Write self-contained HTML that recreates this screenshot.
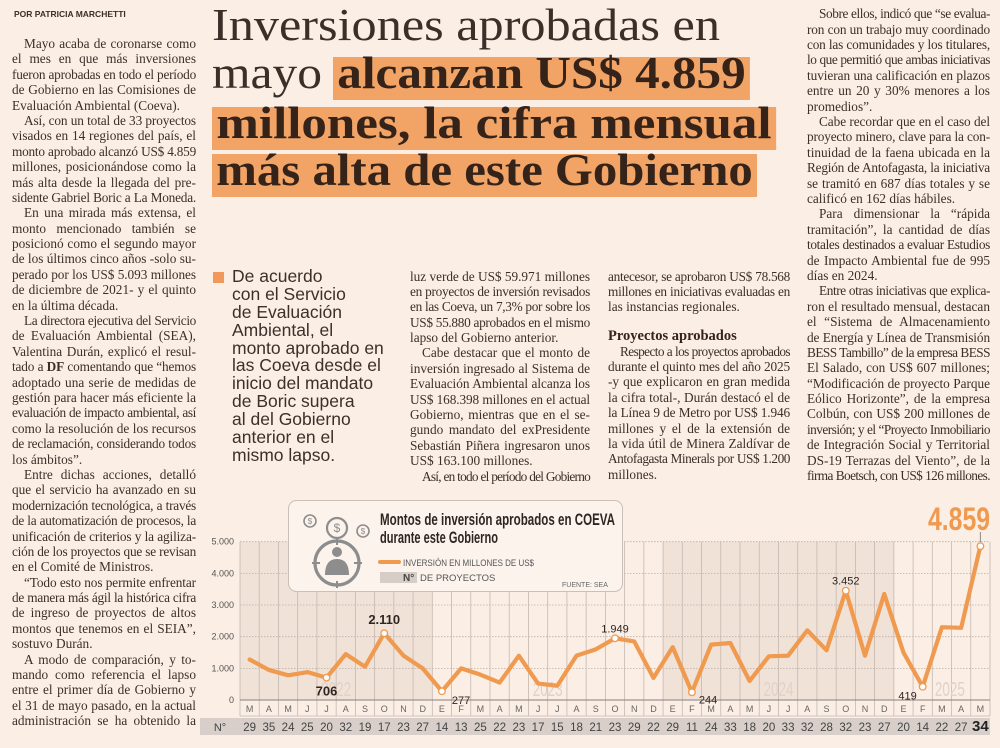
<!DOCTYPE html>
<html><head><meta charset="utf-8">
<style>
html,body{margin:0;padding:0}
body{width:1000px;height:748px;position:relative;overflow:hidden;background:#fbeee5;font-family:"Liberation Serif",serif;color:#3b2f29}
.col{position:absolute;font-size:13.3px;line-height:15.4px}
.ln{white-space:nowrap;text-align:justify;text-align-last:justify;height:15.4px;overflow:visible}
.ln.l{text-align-last:left}
.ln.i{padding-left:12px}
.hl{position:absolute;left:0;top:0;height:43px;line-height:31px;font-size:46px;white-space:nowrap;transform-origin:0 0;display:inline-block}
.hb{background:#f1a466;font-weight:bold;color:#35231a;padding:0 4px}
.pq{position:absolute;left:232px;font-family:"Liberation Sans",sans-serif;font-size:17.5px;line-height:17.9px;color:#3b302a;white-space:nowrap}
</style></head>
<body>
<div style="position:absolute;left:14px;top:9px;font-family:'Liberation Sans',sans-serif;font-weight:bold;font-size:8.5px;color:#3b2f29">POR PATRICIA MARCHETTI</div>

<div>
 <div class="hl fit" data-w="508" style="left:212px;top:9px">Inversiones aprobadas en</div>
 <div class="hl fit" data-w="110" style="left:212px;top:57px">mayo</div>
 <div class="hl hb fit" data-w="417" style="left:333px;top:57px">alcanzan US$ 4.859</div>
 <div class="hl hb fit" data-w="564" style="left:212px;top:107px">millones, la cifra mensual</div>
 <div class="hl hb fit" data-w="545" style="left:212px;top:154px">más alta de este Gobierno</div>
</div>

<div class="col" style="left:12px;top:36px;width:184px">
<div class="ln i">Mayo acaba de coronarse como</div>
<div class="ln">el mes en que más inversiones</div>
<div class="ln">fueron aprobadas en todo el período</div>
<div class="ln">de Gobierno en las Comisiones de</div>
<div class="ln l">Evaluación Ambiental (Coeva).</div>
<div class="ln i">Así, con un total de 33 proyectos</div>
<div class="ln">visados en 14 regiones del país, el</div>
<div class="ln">monto aprobado alcanzó US$ 4.859</div>
<div class="ln">millones, posicionándose como la</div>
<div class="ln">más alta desde la llegada del pre-</div>
<div class="ln">sidente Gabriel Boric a La Moneda.</div>
<div class="ln i">En una mirada más extensa, el</div>
<div class="ln">monto mencionado también se</div>
<div class="ln">posicionó como el segundo mayor</div>
<div class="ln">de los últimos cinco años -solo su-</div>
<div class="ln">perado por los US$ 5.093 millones</div>
<div class="ln">de diciembre de 2021- y el quinto</div>
<div class="ln l">en la última década.</div>
<div class="ln i">La directora ejecutiva del Servicio</div>
<div class="ln">de Evaluación Ambiental (SEA),</div>
<div class="ln">Valentina Durán, explicó el resul-</div>
<div class="ln">tado a <b>DF</b> comentando que “hemos</div>
<div class="ln">adoptado una serie de medidas de</div>
<div class="ln">gestión para hacer más eficiente la</div>
<div class="ln">evaluación de impacto ambiental, así</div>
<div class="ln">como la resolución de los recursos</div>
<div class="ln">de reclamación, considerando todos</div>
<div class="ln l">los ámbitos”.</div>
<div class="ln i">Entre dichas acciones, detalló</div>
<div class="ln">que el servicio ha avanzado en su</div>
<div class="ln">modernización tecnológica, a través</div>
<div class="ln">de la automatización de procesos, la</div>
<div class="ln">unificación de criterios y la agiliza-</div>
<div class="ln">ción de los proyectos que se revisan</div>
<div class="ln l">en el Comité de Ministros.</div>
<div class="ln i">“Todo esto nos permite enfrentar</div>
<div class="ln">de manera más ágil la histórica cifra</div>
<div class="ln">de ingreso de proyectos de altos</div>
<div class="ln">montos que tenemos en el SEIA”,</div>
<div class="ln l">sostuvo Durán.</div>
<div class="ln i">A modo de comparación, y to-</div>
<div class="ln">mando como referencia el lapso</div>
<div class="ln">entre el primer día de Gobierno y</div>
<div class="ln">el 31 de mayo pasado, en la actual</div>
<div class="ln">administración se ha obtenido la</div>
</div>

<div>
<div style="position:absolute;left:213px;top:272px;width:11px;height:11px;background:#f0995a"></div>
<div class="pq" style="top:268px">De acuerdo</div>
<div class="pq" style="top:286px">con el Servicio</div>
<div class="pq" style="top:304px">de Evaluación</div>
<div class="pq" style="top:322px">Ambiental, el</div>
<div class="pq" style="top:340px">monto aprobado en</div>
<div class="pq" style="top:357px">las Coeva desde el</div>
<div class="pq" style="top:375px">inicio del mandato</div>
<div class="pq" style="top:393px">de Boric supera</div>
<div class="pq" style="top:411px">al del Gobierno</div>
<div class="pq" style="top:429px">anterior en el</div>
<div class="pq" style="top:447px">mismo lapso.</div>
</div>

<div class="col" style="left:410px;top:268.5px;width:180px;line-height:15.2px">
<div class="ln">luz verde de US$ 59.971 millones</div>
<div class="ln">en proyectos de inversión revisados</div>
<div class="ln">en las Coeva, un 7,3% por sobre los</div>
<div class="ln">US$ 55.880 aprobados en el mismo</div>
<div class="ln l">lapso del Gobierno anterior.</div>
<div class="ln i">Cabe destacar que el monto de</div>
<div class="ln">inversión ingresado al Sistema de</div>
<div class="ln">Evaluación Ambiental alcanza los</div>
<div class="ln">US$ 168.398 millones en el actual</div>
<div class="ln">Gobierno, mientras que en el se-</div>
<div class="ln">gundo mandato del exPresidente</div>
<div class="ln">Sebastián Piñera ingresaron unos</div>
<div class="ln l">US$ 163.100 millones.</div>
<div class="ln i">Así, en todo el período del Gobierno</div>
</div>

<div class="col" style="left:608px;top:268.5px;width:182px;line-height:15.2px">
<div class="ln">antecesor, se aprobaron US$ 78.568</div>
<div class="ln">millones en iniciativas evaluadas en</div>
<div class="ln l">las instancias regionales.</div>
<div style="height:13px"></div>
<div style="font-weight:bold;font-size:14.5px;height:16px;line-height:16px;color:#35231a">Proyectos aprobados</div>
<div class="ln i">Respecto a los proyectos aprobados</div>
<div class="ln">durante el quinto mes del año 2025</div>
<div class="ln">-y que explicaron en gran medida</div>
<div class="ln">la cifra total-, Durán destacó el de</div>
<div class="ln">la Línea 9 de Metro por US$ 1.946</div>
<div class="ln">millones y el de la extensión de</div>
<div class="ln">la vida útil de Minera Zaldívar de</div>
<div class="ln">Antofagasta Minerals por US$ 1.200</div>
<div class="ln l">millones.</div>
</div>

<div class="col" style="left:807px;top:6.3px;width:183px;line-height:15.45px">
<div class="ln i">Sobre ellos, indicó que “se evalua-</div>
<div class="ln">ron con un trabajo muy coordinado</div>
<div class="ln">con las comunidades y los titulares,</div>
<div class="ln">lo que permitió que ambas iniciativas</div>
<div class="ln">tuvieran una calificación en plazos</div>
<div class="ln">entre un 20 y 30% menores a los</div>
<div class="ln l">promedios”.</div>
<div class="ln i">Cabe recordar que en el caso del</div>
<div class="ln">proyecto minero, clave para la con-</div>
<div class="ln">tinuidad de la faena ubicada en la</div>
<div class="ln">Región de Antofagasta, la iniciativa</div>
<div class="ln">se tramitó en 687 días totales y se</div>
<div class="ln l">calificó en 162 días hábiles.</div>
<div class="ln i">Para dimensionar la “rápida</div>
<div class="ln">tramitación”, la cantidad de días</div>
<div class="ln">totales destinados a evaluar Estudios</div>
<div class="ln">de Impacto Ambiental fue de 995</div>
<div class="ln l">días en 2024.</div>
<div class="ln i">Entre otras iniciativas que explica-</div>
<div class="ln">ron el resultado mensual, destacan</div>
<div class="ln">el “Sistema de Almacenamiento</div>
<div class="ln">de Energía y Línea de Transmisión</div>
<div class="ln">BESS Tambillo” de la empresa BESS</div>
<div class="ln">El Salado, con US$ 607 millones;</div>
<div class="ln">“Modificación de proyecto Parque</div>
<div class="ln">Eólico Horizonte”, de la empresa</div>
<div class="ln">Colbún, con US$ 200 millones de</div>
<div class="ln">inversión; y el “Proyecto Inmobiliario</div>
<div class="ln">de Integración Social y Territorial</div>
<div class="ln">DS-19 Terrazas del Viento”, de la</div>
<div class="ln">firma Boetsch, con US$ 126 millones.</div>
</div>

<svg id="chart" width="1000" height="748" style="position:absolute;left:0;top:0" font-family="Liberation Sans, sans-serif">
 <g id="bgLayer"></g>
 <g id="gridLayer"></g>
 <g id="yearLayer"></g>
 <g id="legend-box">
  <rect x="288.5" y="500.5" width="334" height="91" rx="8" fill="#fcf3ec" stroke="#cbbfb7"/>
  <g fill="none" stroke="#8d8d8d">
   <circle cx="337" cy="563" r="22" stroke-width="3.2"/>
   <line x1="337" y1="538" x2="337" y2="545" stroke-width="2"/>
   <line x1="337" y1="581" x2="337" y2="588" stroke-width="2"/>
   <line x1="312" y1="563" x2="320" y2="563" stroke-width="2"/>
   <line x1="354" y1="563" x2="362" y2="563" stroke-width="2"/>
   <circle cx="337" cy="528" r="10" fill="#fcf3ec" stroke-width="2.2"/>
   <circle cx="310" cy="521" r="6" stroke-width="1.6"/>
   <circle cx="363" cy="531" r="6" stroke-width="1.6"/>
   <circle cx="337" cy="552" r="5" fill="#8d8d8d" stroke="none"/>
   <path d="M325 575 Q325 559 337 559 Q349 559 349 575 Z" fill="#8d8d8d" stroke="none"/>
   <text x="337" y="532" font-size="12" fill="#8d8d8d" stroke="none" text-anchor="middle">$</text>
   <text x="310" y="524" font-size="8" fill="#8d8d8d" stroke="none" text-anchor="middle">$</text>
   <text x="363" y="534" font-size="8" fill="#8d8d8d" stroke="none" text-anchor="middle">$</text>
  </g>
  <text x="380" y="525" font-size="17" font-weight="bold" fill="#2f2622" textLength="235" lengthAdjust="spacingAndGlyphs">Montos de inversión aprobados en COEVA</text>
  <text x="380" y="543" font-size="17" font-weight="bold" fill="#2f2622" textLength="118" lengthAdjust="spacingAndGlyphs">durante este Gobierno</text>
  <line x1="380" y1="562" x2="399" y2="562" stroke="#ef9a4f" stroke-width="4" stroke-linecap="round"/>
  <text x="403" y="566" font-size="9.5" fill="#555" textLength="131" lengthAdjust="spacingAndGlyphs">INVERSIÓN EN MILLONES DE US$</text>
  <rect x="380" y="572" width="37" height="11" fill="#d6cdc7"/>
  <text x="403" y="581" font-size="10" font-weight="bold" fill="#444">N°</text>
  <text x="420" y="581" font-size="9.5" fill="#555">DE PROYECTOS</text>
  <text x="562" y="587" font-size="7" fill="#666">FUENTE: SEA</text>
 </g>
 <g id="dataLayer"></g>
</svg>

<script>
const months=["M","A","M","J","J","A","S","O","N","D","E","F","M","A","M","J","J","A","S","O","N","D","E","F","M","A","M","J","J","A","S","O","N","D","E","F","M","A","M"];
const investment=[1280,950,780,880,706,1450,1050,2110,1400,1000,277,1000,800,550,1400,520,450,1400,1600,1949,1850,700,1670,244,1750,1800,600,1380,1400,2200,1570,3452,1400,3350,1500,419,2300,2280,4859];
const projects=[29,35,24,25,20,32,19,17,23,27,14,13,25,22,23,17,15,18,21,23,29,22,29,11,24,33,18,20,33,32,28,32,23,27,20,14,22,27,34];
const yTicks=[0,1000,2000,3000,4000,5000];
const yTickLabels=["0","1.000","2.000","3.000","4.000","5.000"];
const years=["2022","2023","2024","2025"];
const yearStart=[0,10,22,34];
const yearLen=[10,12,12,5];
const shadedYears=[0,2];
const highlightIdx=[4,7,10,19,23,31,35,38];
const highlightText=["706","2.110","277","1.949","244","3.452","419","4.859"];

const NS="http://www.w3.org/2000/svg";
const X0=240,X1=990,Y0=700,YTOP=541.7,VMAX=5000;
const cw=(X1-X0)/months.length;
function xBand(i){return X0+i*cw;}
function xC(i){return X0+(i+0.5)*cw;}
function yS(v){return Y0-(v/VMAX)*(Y0-YTOP);}
function mk(tag,attrs,parent){const e=document.createElementNS(NS,tag);for(const k in attrs)e.setAttribute(k,attrs[k]);parent.appendChild(e);return e;}
const bg=document.getElementById('bgLayer'),grid=document.getElementById('gridLayer'),yl=document.getElementById('yearLayer'),dl=document.getElementById('dataLayer');

shadedYears.forEach(y=>{
 const r=mk('rect',{x:xBand(yearStart[y]),y:YTOP,width:yearLen[y]*cw,height:Y0-YTOP,fill:'#f1e2d8'},bg);
 
 
});
yTicks.forEach((t,i)=>{
 if(t>0){const l=mk('line',{x1:X0,x2:X1,y1:yS(t),y2:yS(t),stroke:'#b9aea6','stroke-dasharray':'1.5 1.5','stroke-width':0.8},grid);
 
 }
 const tx=mk('text',{x:234,y:yS(t)+3,'font-size':9,fill:'#555','text-anchor':'end'},grid);
 tx.textContent=yTickLabels[i];
 
 
});
for(let i=0;i<=months.length;i++){
 const l=mk('line',{x1:xBand(i),x2:xBand(i),y1:YTOP,y2:Y0+16,stroke:'#c4b8b0','stroke-width':0.8},grid);
 
 
}
mk('line',{x1:X0,x2:X1,y1:Y0,y2:Y0,stroke:'#8a807a','stroke-width':1},grid);
mk('line',{x1:X0,x2:X1,y1:Y0+16,y2:Y0+16,stroke:'#c4b8b0','stroke-width':0.8},grid);
const nrow=mk('rect',{x:200,y:718,width:X1-200,height:17,fill:'#d8cfca'},grid);


const nl=mk('text',{x:220,y:731,'font-size':11,fill:'#444','text-anchor':'middle'},grid);
nl.textContent='N°';


months.forEach((m,i)=>{
 const t=mk('text',{x:xC(i),y:Y0+12,'font-size':9,fill:'#666','text-anchor':'middle'},grid);
 t.textContent=m;
 
 
 const last=i===months.length-1;
 const p=mk('text',{x:xC(i),y:731,'font-size':last?15:11.5,'font-weight':last?'bold':'normal',fill:last?'#222':'#444','text-anchor':'middle'},grid);
 p.textContent=projects[i];
 
 
});
years.forEach((y,k)=>{
 const t=mk('text',{x:xC(yearStart[k]+yearLen[k]/2-0.5)+(k===3?8:0),y:696,'font-size':20,fill:'#e0d2c9','text-anchor':'middle',textLength:30,lengthAdjust:'spacingAndGlyphs'},yl);
 t.textContent=y;
 
 
});
const pts=investment.map((v,i)=>xC(i)+','+yS(v)).join(' ');
const pl=mk('polyline',{points:pts,fill:'none',stroke:'#ef9a4f','stroke-width':4.2,'stroke-linejoin':'round','stroke-linecap':'round'},dl);


const lblOff={4:[0,14,'middle'],7:[0,-13,'middle'],10:[10,9,'start'],19:[0,-10,'middle'],23:[7,7,'start'],31:[0,-10,'middle'],35:[-6,9,'end']};
highlightIdx.forEach((idx,k)=>{
 const cx=xC(idx),cy=yS(investment[idx]);
 const c=mk('circle',{cx:cx,cy:cy,r:3.3,fill:'#fff',stroke:'#ef9a4f','stroke-width':1.3},dl);
 
 
 if(idx===38){
  mk('line',{x1:cx,x2:cx,y1:cy-4,y2:532,stroke:'#888','stroke-width':1},dl);
  const t=mk('text',{x:990,y:530,'font-size':32,'font-weight':'bold',fill:'#ef9a4f','text-anchor':'end',textLength:62,lengthAdjust:'spacingAndGlyphs'},dl);
  t.textContent=highlightText[k];
  
  
 }else{
  const o=lblOff[idx];
  const big=(idx===4||idx===7);
  const t=mk('text',{x:cx+o[0],y:cy+o[1]+4,'font-size':big?13:11,'font-weight':big?'bold':'normal',fill:'#2f2622','text-anchor':o[2]},dl);
  t.textContent=highlightText[k];
  
  
 }
});

document.querySelectorAll('.fit').forEach(el=>{
 const w=el.getBoundingClientRect().width;const t=+el.getAttribute('data-w');
 el.style.transform='scaleX('+(t/w)+')';
});
document.querySelectorAll('.ln').forEach(el=>{
 const r=document.createRange();r.selectNodeContents(el);
 const pad=el.classList.contains('i')?12:0;
 const avail=el.clientWidth-pad;const w=r.getBoundingClientRect().width;
 if(w>avail){const n=el.textContent.length;el.style.letterSpacing=(-(w-avail)/n-0.02)+'px';}
});
</script>
</body></html>
